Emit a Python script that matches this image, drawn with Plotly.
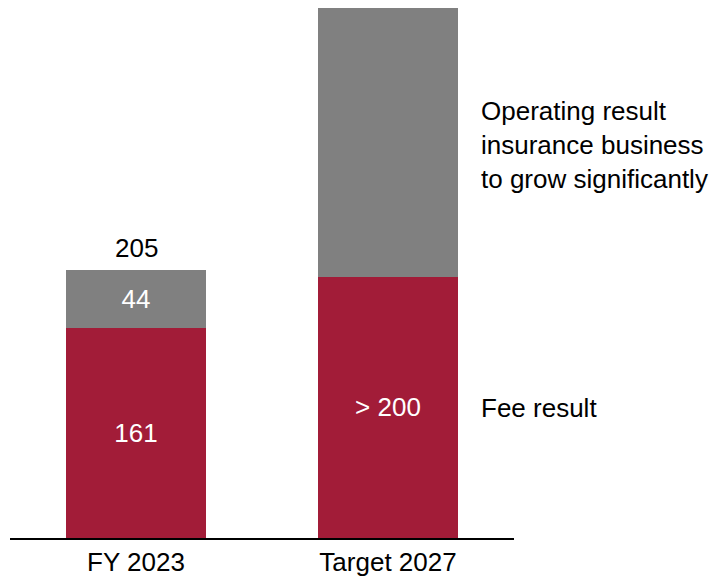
import plotly.graph_objects as go

# Data
categories = ["FY 2023", "Target 2027"]
fee_result = [161, 200]
fee_labels = ["161", "> 200"]
insurance_result = [44, 206]
insurance_labels = ["44", ""]
total_labels = ["205", ""]

RED = "#A21C38"
GRAY = "#808080"
FONT = "Arial, Liberation Sans, sans-serif"
FS = 26

fig = go.Figure()
fig.add_trace(go.Bar(
    x=categories, y=fee_result, marker=dict(color=RED, line=dict(width=0)),
    text=fee_labels, textposition="inside", insidetextanchor="middle",
    textangle=0, textfont=dict(color="white", size=FS, family=FONT),
    constraintext="none", hoverinfo="skip",
))
fig.add_trace(go.Bar(
    x=categories, y=insurance_result, marker=dict(color=GRAY, line=dict(width=0)),
    text=insurance_labels, textposition="inside", insidetextanchor="middle",
    textangle=0, textfont=dict(color="white", size=FS, family=FONT),
    constraintext="none", hoverinfo="skip",
))

annotations = []
# Total above the first bar
for cat, f, i, lab in zip(categories, fee_result, insurance_result, total_labels):
    if lab:
        annotations.append(dict(
            x=cat, y=f + i, xref="x", yref="y", text=lab, showarrow=False,
            yanchor="bottom", yshift=5, font=dict(size=FS, color="black", family=FONT),
        ))

# Series descriptions on the right
H = 579
plot_top, plot_bottom = 2, 41
ph = H - plot_top - plot_bottom


def ypaper(px):
    return (H - plot_bottom - px) / ph


right_lines = ["Operating result", "insurance business", "to grow significantly"]
for k, line in enumerate(right_lines):
    annotations.append(dict(
        x=1.362, y=ypaper(111 + 34 * k), xref="x", yref="paper", text=line,
        showarrow=False, xanchor="left", yanchor="middle",
        font=dict(size=FS, color="black", family=FONT),
    ))
annotations.append(dict(
    x=1.362, y=ypaper(408), xref="x", yref="paper", text="Fee result",
    showarrow=False, xanchor="left", yanchor="middle",
    font=dict(size=FS, color="black", family=FONT),
))

fig.update_layout(
    barmode="stack", bargap=0.444, showlegend=False,
    width=711, height=579,
    margin=dict(l=10, r=197, t=plot_top, b=plot_bottom),
    plot_bgcolor="white", paper_bgcolor="white",
    annotations=annotations,
    xaxis=dict(range=[-0.5, 1.5], showline=True, linecolor="black", linewidth=2,
               ticks="", showgrid=False, zeroline=False,
               tickfont=dict(size=FS, color="black", family=FONT)),
    yaxis=dict(range=[0, 410.4], visible=False, showgrid=False, zeroline=False),
    font=dict(family=FONT),
)

fig.write_html("out.html")
